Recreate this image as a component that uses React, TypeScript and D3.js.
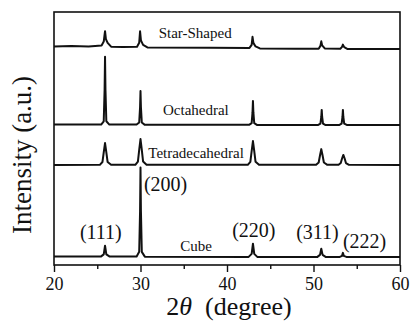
import React, { useRef, useEffect } from "react";
import * as d3 from "d3";

const xTicks = [20, 30, 40, 50, 60];
const xMinorTicks = [25, 35, 45, 55];

// [2theta, intensity above the pattern's own baseline]
const cube = [
  [20, 0.2], [25.45, 0.2], [25.75, 1.0], [25.9, 4.4], [26.05, 1.0], [26.4, 0.2],
  [29.55, 0.2], [29.85, 2.0], [29.95, 18], [30.0, 35.3], [30.05, 18], [30.15, 2.0], [30.5, 0.1],
  [42.5, 0.0], [42.85, 1.2], [43.0, 5.2], [43.15, 1.2], [43.5, 0.0],
  [50.45, 0], [50.75, 0.8], [50.9, 3.2], [51.05, 0.8], [51.4, 0],
  [53.05, 0], [53.3, 0.4], [53.4, 1.6], [53.5, 0.4], [53.8, 0],
  [60, 0],
];

const tetradecahedral = [
  [20, 0], [25.3, 0.1], [25.6, 1.2], [25.75, 5.0], [25.9, 8.7], [26.05, 5.0], [26.2, 1.2], [26.6, 0.1],
  [29.4, 0.1], [29.7, 1.4], [29.85, 6.0], [30.0, 10.3], [30.15, 6.0], [30.3, 1.4], [30.7, 0.1],
  [42.4, 0.1], [42.7, 1.3], [42.85, 5.5], [43.0, 9.5], [43.15, 5.5], [43.3, 1.3], [43.7, 0.1],
  [50.3, 0.1], [50.6, 1.0], [50.75, 3.8], [50.9, 6.3], [51.05, 3.8], [51.2, 1.0], [51.6, 0.1],
  [52.9, 0.1], [53.15, 0.8], [53.3, 2.6], [53.45, 4.0], [53.6, 2.6], [53.75, 0.8], [54.1, 0.1],
  [60, 0],
];

const octahedral = [
  [20, 0.2], [25.45, 0.2], [25.75, 1.5], [25.85, 14], [25.9, 27], [25.95, 14], [26.05, 1.5], [26.4, 0.2],
  [29.55, 0.2], [29.85, 1.0], [29.95, 7], [30.0, 13.5], [30.05, 7], [30.15, 1.0], [30.5, 0.1],
  [42.55, 0.1], [42.85, 0.8], [42.95, 5], [43.0, 9.5], [43.05, 5], [43.15, 0.8], [43.5, 0],
  [50.5, 0], [50.8, 0.6], [50.9, 3.2], [50.95, 6], [51.0, 3.2], [51.1, 0.6], [51.4, 0],
  [52.95, 0], [53.25, 0.6], [53.35, 3.2], [53.4, 6], [53.45, 3.2], [53.55, 0.6], [53.9, 0],
  [60, 0],
];

const starShaped = [
  [20, 0.6], [22, 0.8], [24, 0.6], [25.5, 1.0], [25.75, 2.5], [25.9, 6.6], [26.0, 3.5], [26.2, 2.0], [26.6, 0.5], [28, 0.4],
  [29.6, 0.5], [29.85, 2.0], [29.95, 6.6], [30.05, 3.0], [30.3, 1.2], [30.8, 0.2],
  [38, 0.1], [42.6, 0], [42.85, 1.2], [42.95, 4.4], [43.05, 2.0], [43.3, 0.6], [43.8, -0.2],
  [48, -0.3], [50.6, -0.3], [50.8, 0.8], [50.9, 2.6], [51.0, 1.0], [51.3, -0.2],
  [53.1, -0.3], [53.3, 0.4], [53.4, 1.3], [53.55, 0.3], [53.9, -0.4],
  [60, -0.4],
];

const patterns = [cube, tetradecahedral, octahedral, starShaped];
const patternOffsets = [3.2, 39.5, 55.3, 85.8];
const patternNames = ["Cube", "Tetradecahedral", "Octahedral", "Star-Shaped"];
const nameAnchors = [[34.6, 5.5], [30.9, 42.3], [32.6, 59.3], [32.1, 89.7]];

const planeLabels = ["(111)", "(200)", "(220)", "(311)", "(222)"];
const planeAnchors = [[23.0, 10.3], [30.4, 29.2], [40.6, 11.1], [48.0, 10.3], [53.4, 6.7]];

const serif = "Liberation Serif, Tinos, Times New Roman, DejaVu Serif, Noto Serif, serif";

export default function App() {
  const ref = useRef(null);
  const width = 413;
  const height = 331;

  useEffect(() => {
    const svg = d3.select(ref.current);
    svg.selectAll("*").remove();

    const left = 54, right = 400, top = 12, bottom = 265;

    const x = d3.scaleLinear().domain([20, 60]).range([left, right]);
    const y = d3.scaleLinear().domain([0, 100]).range([bottom, top]);

    // minor ticks
    svg.append("g")
      .attr("transform", `translate(0,${bottom})`)
      .call(d3.axisBottom(x).tickValues(xMinorTicks).tickSize(4).tickFormat(() => ""))
      .call((g) => g.select(".domain").remove())
      .call((g) => g.selectAll("line").attr("stroke", "#111").attr("stroke-width", 1.4));

    // major ticks
    svg.append("g")
      .attr("transform", `translate(0,${bottom})`)
      .call(d3.axisBottom(x).tickValues(xTicks).tickSize(7).tickPadding(5).tickFormat(d3.format("d")))
      .call((g) => g.select(".domain").remove())
      .call((g) => g.selectAll("line").attr("stroke", "#111").attr("stroke-width", 1.4))
      .call((g) =>
        g.selectAll("text")
          .attr("font-family", null)
          .style("font-family", serif)
          .attr("font-size", 18)
          .attr("fill", "#111")
      );

    svg.append("rect")
      .attr("x", left)
      .attr("y", top)
      .attr("width", right - left)
      .attr("height", bottom - top)
      .attr("fill", "none")
      .attr("stroke", "#111")
      .attr("stroke-width", 1.6);

    patterns.forEach((data, i) => {
      const line = d3
        .line()
        .x((d) => x(d[0]))
        .y((d) => y(d[1] + patternOffsets[i]));
      svg.append("path")
        .datum(data)
        .attr("fill", "none")
        .attr("stroke", "#111")
        .attr("stroke-width", 2)
        .attr("stroke-linejoin", "round")
        .attr("d", line);

      svg.append("text")
        .attr("x", x(nameAnchors[i][0]))
        .attr("y", y(nameAnchors[i][1]))
        .style("font-family", serif)
        .attr("font-size", 15)
        .attr("fill", "#111")
        .text(patternNames[i]);
    });

    planeLabels.forEach((t, i) => {
      svg.append("text")
        .attr("x", x(planeAnchors[i][0]))
        .attr("y", y(planeAnchors[i][1]))
        .style("font-family", serif)
        .attr("font-size", 20)
        .attr("fill", "#111")
        .text(t);
    });

    // axis titles
    const xt = svg.append("text")
      .attr("x", (left + right) / 2 + 2)
      .attr("y", 315)
      .attr("text-anchor", "middle")
      .style("font-family", serif)
      .attr("font-size", 26)
      .attr("fill", "#111");
    xt.append("tspan").text("2");
    xt.append("tspan").attr("font-style", "italic").text("θ");
    xt.append("tspan").text("\u00a0\u00a0(degree)");

    svg.append("text")
      .attr("transform", "translate(31,155) rotate(-90)")
      .attr("text-anchor", "middle")
      .style("font-family", serif)
      .attr("font-size", 27)
      .attr("fill", "#111")
      .text("Intensity (a.u.)");
  }, []);

  return (
    <svg
      ref={ref}
      width={width}
      height={height}
      style={{ position: "absolute", left: 0, top: 0, background: "#fff" }}
    ></svg>
  );
}
